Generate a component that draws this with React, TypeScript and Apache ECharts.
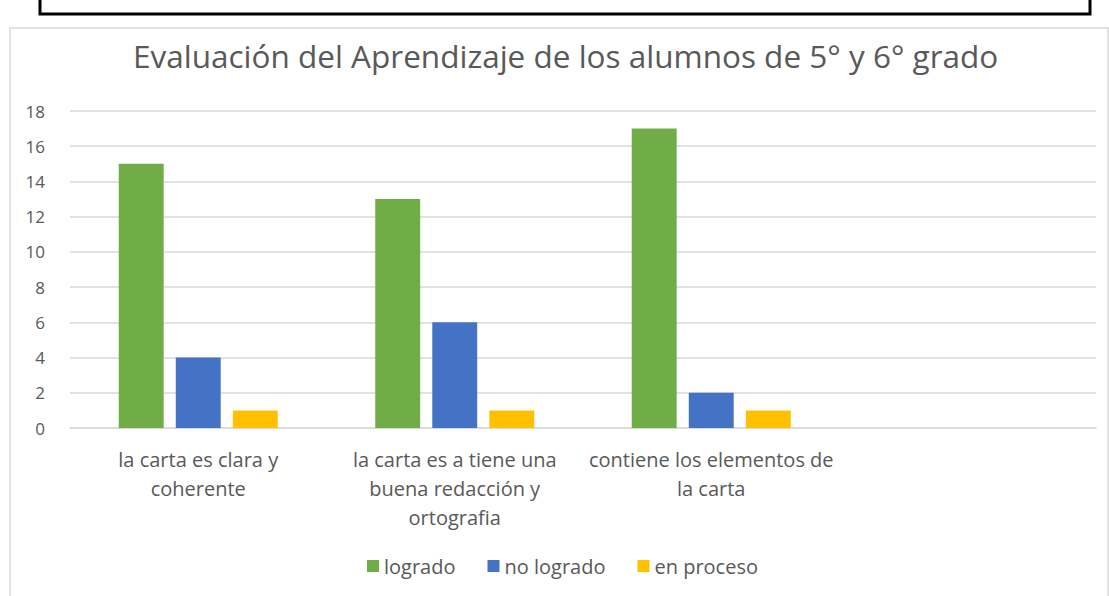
import React, { useEffect, useRef } from "react";
import * as echarts from "echarts";

const categories = [
  "la carta es clara y\ncoherente",
  "la carta es a tiene una\nbuena redacción y\nortografia",
  "contiene los elementos de\nla carta",
  "",
];
const logrado = [15, 13, 17, null];
const noLogrado = [4, 6, 2, null];
const enProceso = [1, 1, 1, null];
const yTicks = { min: 0, max: 18, interval: 2 };

const FONT = "Open Sans";
const GREY = "#595959";

export default function App() {
  const ref = useRef<HTMLDivElement>(null);
  useEffect(() => {
    if (!ref.current) return;
    const chart = echarts.init(ref.current, null, { renderer: "svg" });
    chart.setOption({
      animation: false,
      backgroundColor: "#ffffff",
      textStyle: { fontFamily: FONT },
      title: {
        text: "Evaluación del Aprendizaje de los alumnos de 5° y 6° grado",
        left: 128,
        top: 34,
        textStyle: { fontFamily: FONT, fontSize: 31.5, fontWeight: "normal", color: GREY },
      },
      legend: {
        bottom: 15,
        left: 362,
        icon: "rect",
        itemWidth: 12,
        itemHeight: 12,
        itemGap: 32,
        textStyle: { fontFamily: FONT, fontSize: 20, color: GREY },
        data: ["logrado", "no logrado", "en proceso"],
      },
      grid: { left: 70, right: 13, top: 111, bottom: 168, containLabel: false },
      xAxis: {
        type: "category",
        data: categories,
        axisLine: { lineStyle: { color: "#d9d9d9", width: 1.5 } },
        axisTick: { show: false },
        axisLabel: {
          interval: 0,
          fontFamily: FONT,
          fontSize: 20,
          color: GREY,
          lineHeight: 29,
          margin: 17,
        },
      },
      yAxis: {
        type: "value",
        min: yTicks.min,
        max: yTicks.max,
        interval: yTicks.interval,
        axisLine: { show: false },
        axisTick: { show: false },
        splitLine: { lineStyle: { color: "#d9d9d9", width: 1.5 } },
        axisLabel: { fontFamily: FONT, fontSize: 17, color: GREY, margin: 25 },
      },
      series: [
        { name: "logrado", type: "bar", data: logrado, itemStyle: { color: "#70AD47" }, barGap: "27%", barCategoryGap: "38%" },
        { name: "no logrado", type: "bar", data: noLogrado, itemStyle: { color: "#4472C4" } },
        { name: "en proceso", type: "bar", data: enProceso, itemStyle: { color: "#FFC000" } },
      ],
      graphic: [
        {
          type: "rect",
          shape: { x: 10, y: 28, width: 1098, height: 600 },
          style: { fill: "none", stroke: "#d9d9d9", lineWidth: 1.5 },
          silent: true,
          z: -1,
        },
        {
          type: "rect",
          shape: { x: 40, y: -6, width: 1050, height: 20 },
          style: { fill: "none", stroke: "#000000", lineWidth: 3 },
          silent: true,
        },
      ],
    });
    return () => chart.dispose();
  }, []);
  return (
    <div
      ref={ref}
      style={{ position: "fixed", left: 0, top: 0, width: 1109, height: 596 }}
    />
  );
}
